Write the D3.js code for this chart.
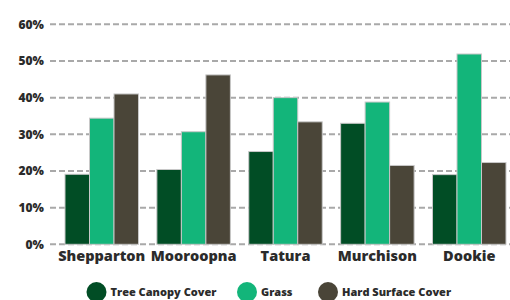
<!DOCTYPE html>
<html><head><meta charset="utf-8">
<script src="https://cdn.jsdelivr.net/npm/d3@7"></script>
<style>body{margin:0;background:#fff}svg{display:block}text{font-family:"Open Sans",sans-serif;font-weight:800;fill:#2b2b2b}</style>
</head><body><svg id="c" width="510" height="300"></svg>
<script>
const categories = ["Shepparton","Mooroopna","Tatura","Murchison","Dookie"];
const seriesNames = ["Tree Canopy Cover","Grass","Hard Surface Cover"];
const treeCanopy = [19.1, 20.4, 25.3, 33.0, 19.0];
const grass = [34.4, 30.7, 40.0, 38.8, 51.9];
const hardSurface = [41.0, 46.2, 33.4, 21.5, 22.3];
const yTicks = [0,10,20,30,40,50,60];
const colors = ["#014d25","#13b57a","#4a4538"];

const series = [treeCanopy, grass, hardSurface];
const FONT = '"Open Sans", sans-serif';
const svg = d3.select("#c");
const y = d3.scaleLinear().domain([0,60]).range([244.3,24.3]);
const x0 = d3.scaleBand().domain(categories).range([65,506]).paddingInner(0.2).paddingOuter(0);
const x1 = d3.scaleBand().domain(seriesNames).range([0,x0.bandwidth()]);

// gridlines
svg.append("g").selectAll("line").data(yTicks).join("line")
  .attr("x1",50).attr("x2",510).attr("y1",d=>y(d)).attr("y2",d=>y(d))
  .attr("stroke","#a9a9a9").attr("stroke-width",2).attr("stroke-dasharray","6,3");

// y axis labels
const yAxis = d3.axisLeft(y).tickValues(yTicks).tickFormat(d=>d+"%").tickSize(0).tickPadding(0);
const ga = svg.append("g").attr("transform","translate(44,0)").call(yAxis);
ga.select(".domain").remove();
ga.selectAll("text").attr("font-size",12).style("font-family",FONT).style("font-weight",800).attr("fill","#2b2b2b");

// bars
const groups = svg.append("g").selectAll("g").data(categories).join("g")
  .attr("transform",c=>`translate(${x0(c)},0)`);
groups.selectAll("rect").data((c,i)=>seriesNames.map((s,j)=>({s,j,v:series[j][i]}))).join("rect")
  .attr("x",d=>x1(d.s)).attr("width",x1.bandwidth())
  .attr("y",d=>y(d.v)).attr("height",d=>y(0)-y(d.v))
  .attr("fill",d=>colors[d.j]).attr("stroke","#c8c8c8").attr("stroke-width",1);

// x axis labels
const xAxis = d3.axisBottom(x0).tickSize(0).tickPadding(0);
const gx = svg.append("g").attr("transform","translate(0,251)").call(xAxis);
gx.select(".domain").remove();
gx.selectAll("text").attr("font-size",14.5).style("font-family",FONT).style("font-weight",800).attr("fill","#2b2b2b");

// legend
const legendX = [96.5, 247, 328];
const lg = svg.append("g").selectAll("g").data(seriesNames).join("g")
  .attr("transform",(d,i)=>`translate(${legendX[i]},292)`);
lg.append("circle").attr("r",10).attr("fill",(d,i)=>colors[i]);
lg.append("text").attr("x",14).attr("dy","0.35em").attr("font-size",11).text(d=>d);
</script></body></html>
